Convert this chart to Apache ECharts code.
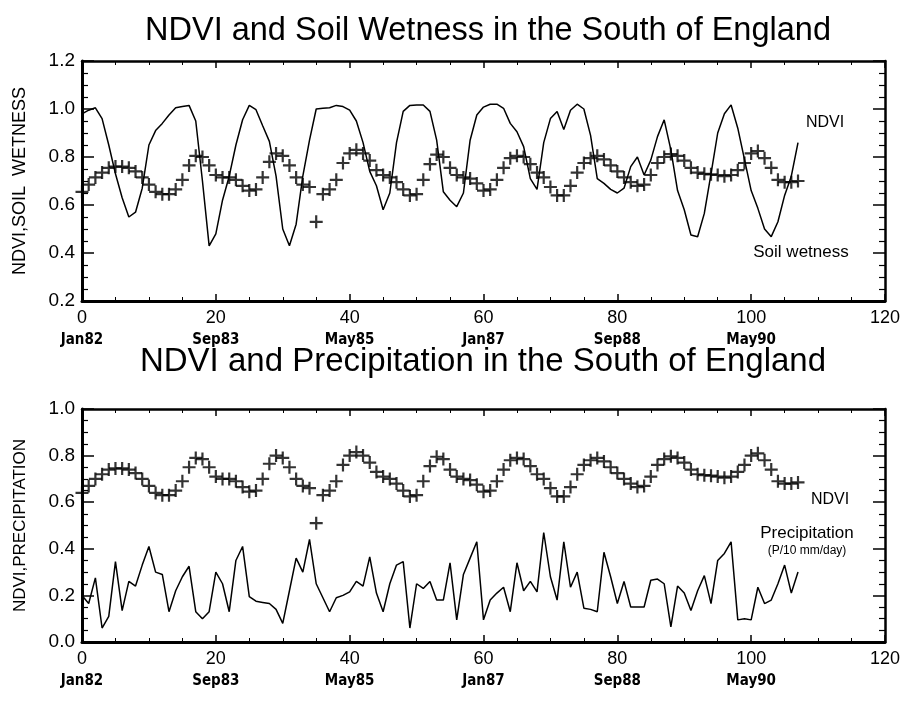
<!DOCTYPE html>
<html>
<head>
<meta charset="utf-8">
<script src="https://cdn.jsdelivr.net/npm/echarts@6/dist/echarts.min.js"></script>
<style>
  html, body { margin: 0; padding: 0; background: #fff; }
  #chart { width: 907px; height: 702px; }
</style>
</head>
<body>
<div id="chart"></div>
<script>
// Monthly series, Jan 1982 (month 0) to Dec 1990 (month 107)
const xTicks = [0, 20, 40, 60, 80, 100, 120];
const dateLabels = ['Jan82', 'Sep83', 'May85', 'Jan87', 'Sep88', 'May90', ''];

// NDVI (solid line, upper panel)
const ndvi = [
  0.98, 0.995, 1.005, 0.96, 0.85, 0.73, 0.63, 0.55, 0.57, 0.67,
  0.85, 0.91, 0.94, 0.975, 1.005, 1.01, 1.015, 0.95, 0.70, 0.43,
  0.48, 0.62, 0.72, 0.85, 0.955, 1.015, 0.997, 0.93, 0.865, 0.72,
  0.50, 0.43, 0.52, 0.72, 0.87, 1.0, 1.003, 1.005, 1.015, 1.01,
  0.995, 0.95, 0.86, 0.74, 0.68, 0.58, 0.65, 0.86, 0.99, 1.015,
  1.017, 1.017, 0.99, 0.87, 0.655, 0.62, 0.593, 0.65, 0.87, 0.975,
  1.008, 1.02, 1.02, 1.003, 0.94, 0.905, 0.843, 0.71, 0.665, 0.86,
  0.96, 0.99, 0.915, 0.995, 1.02, 1.0, 0.89, 0.71, 0.69, 0.665,
  0.65, 0.67, 0.76, 0.80, 0.725, 0.787, 0.885, 0.955, 0.83, 0.66,
  0.58, 0.475, 0.468, 0.565, 0.73, 0.90, 0.98, 1.017, 0.92, 0.79,
  0.66, 0.586, 0.50, 0.468, 0.53, 0.64, 0.72, 0.86
];

// Soil wetness (plus markers, upper panel)
const soilWetness = [
  0.655, 0.685, 0.715, 0.735, 0.755, 0.76, 0.76, 0.755, 0.74, 0.715,
  0.685, 0.655, 0.645, 0.645, 0.665, 0.705, 0.765, 0.805, 0.80, 0.765,
  0.725, 0.715, 0.715, 0.705, 0.68, 0.66, 0.665, 0.715, 0.78, 0.815,
  0.805, 0.765, 0.715, 0.685, 0.675, 0.53, 0.645, 0.665, 0.705, 0.775,
  0.815, 0.83, 0.815, 0.785, 0.745, 0.725, 0.715, 0.695, 0.665, 0.64,
  0.645, 0.705, 0.77, 0.81, 0.80, 0.755, 0.725, 0.715, 0.71, 0.69,
  0.66, 0.665, 0.705, 0.755, 0.795, 0.805, 0.80, 0.77, 0.735, 0.715,
  0.675, 0.64, 0.64, 0.68, 0.735, 0.775, 0.795, 0.805, 0.79, 0.765,
  0.74, 0.715, 0.695, 0.68, 0.685, 0.725, 0.775, 0.80, 0.812, 0.805,
  0.785, 0.755, 0.735, 0.73, 0.728, 0.725, 0.72, 0.725, 0.745, 0.775,
  0.815, 0.825, 0.795, 0.755, 0.705, 0.695, 0.695, 0.70
];

// NDVI (plus markers, lower panel)
const ndviLower = [
  0.64, 0.67, 0.70, 0.72, 0.74, 0.745, 0.745, 0.74, 0.725, 0.70,
  0.67, 0.64, 0.63, 0.63, 0.65, 0.69, 0.75, 0.79, 0.785, 0.75,
  0.71, 0.70, 0.70, 0.69, 0.665, 0.645, 0.65, 0.70, 0.765, 0.80,
  0.79, 0.75, 0.70, 0.67, 0.66, 0.51, 0.63, 0.65, 0.69, 0.76,
  0.80, 0.815, 0.80, 0.77, 0.73, 0.71, 0.70, 0.68, 0.65, 0.625,
  0.63, 0.69, 0.755, 0.795, 0.785, 0.74, 0.71, 0.70, 0.695, 0.675,
  0.645, 0.65, 0.69, 0.74, 0.78, 0.79, 0.785, 0.755, 0.72, 0.70,
  0.66, 0.625, 0.625, 0.665, 0.72, 0.76, 0.78, 0.79, 0.775, 0.75,
  0.725, 0.70, 0.68, 0.665, 0.67, 0.71, 0.76, 0.785, 0.797, 0.79,
  0.77, 0.74, 0.72, 0.716, 0.714, 0.71, 0.705, 0.71, 0.73, 0.76,
  0.80, 0.81, 0.78, 0.74, 0.69, 0.68, 0.68, 0.685
];

// Precipitation, P/10 mm/day (solid line, lower panel)
const precipitation = [
  0.20, 0.165, 0.275, 0.06, 0.11, 0.345, 0.135, 0.26, 0.24, 0.33,
  0.41, 0.30, 0.29, 0.13, 0.22, 0.28, 0.325, 0.13, 0.10, 0.13,
  0.30, 0.25, 0.13, 0.35, 0.41, 0.195, 0.175, 0.17, 0.165, 0.14,
  0.08, 0.22, 0.36, 0.30, 0.44, 0.25, 0.19, 0.13, 0.19, 0.20,
  0.215, 0.26, 0.24, 0.365, 0.21, 0.13, 0.25, 0.33, 0.345, 0.06,
  0.25, 0.23, 0.26, 0.18, 0.18, 0.34, 0.095, 0.29, 0.36, 0.43,
  0.095, 0.18, 0.21, 0.235, 0.13, 0.34, 0.22, 0.26, 0.215, 0.47,
  0.28, 0.18, 0.43, 0.235, 0.30, 0.145, 0.14, 0.13, 0.385, 0.28,
  0.165, 0.26, 0.15, 0.15, 0.15, 0.265, 0.27, 0.25, 0.065, 0.24,
  0.21, 0.135, 0.22, 0.285, 0.165, 0.35, 0.38, 0.43, 0.095, 0.10,
  0.095, 0.235, 0.165, 0.18, 0.25, 0.33, 0.21, 0.30
];

const pairs = vals => vals.map((v, i) => [i, v]);

const SANS = "'Liberation Sans', Arial, sans-serif";
const NARROW = "'Liberation Sans Narrow', 'DejaVu Sans Condensed', sans-serif";
const INK = '#000';

// A filled plus sign used as the marker
const plusSymbol = 'path://M-1,-0.17 H1 V0.17 H-1 Z M-0.17,-1 H0.17 V1 H-0.17 Z';

function bottomX(gridIndex) {
  return {
    type: 'value', gridIndex, position: 'bottom',
    min: 0, max: 120, interval: 20,
    axisLine: { show: true, onZero: false, lineStyle: { color: INK, width: 3 } },
    axisTick: { show: true, inside: true, length: 7, lineStyle: { color: INK, width: 1.5 } },
    minorTick: { show: true, splitNumber: 4, length: 4, lineStyle: { color: INK, width: 1 } },
    splitLine: { show: false },
    axisLabel: {
      show: true, margin: 6,
      formatter: v => '{n|' + v + '}\n{d|' + (dateLabels[xTicks.indexOf(v)] || ' ') + '}',
      rich: {
        n: { fontSize: 18, fontFamily: SANS, color: INK, lineHeight: 22 },
        d: { fontSize: 15, fontFamily: NARROW, fontWeight: 'bold', color: INK, lineHeight: 22 }
      }
    }
  };
}

function topX(gridIndex) {
  return {
    type: 'value', gridIndex, position: 'top',
    min: 0, max: 120, interval: 20,
    axisLine: { show: true, onZero: false, lineStyle: { color: INK, width: 2.5 } },
    axisTick: { show: true, inside: true, length: 7, lineStyle: { color: INK, width: 1.5 } },
    minorTick: { show: true, splitNumber: 4, length: 4, lineStyle: { color: INK, width: 1 } },
    splitLine: { show: false },
    axisLabel: { show: false }
  };
}

function leftY(gridIndex, min, max, name, nameSize) {
  return {
    type: 'value', gridIndex, position: 'left',
    min, max, interval: 0.2,
    name, nameLocation: 'middle', nameRotate: 90, nameGap: 53,
    nameTextStyle: { fontSize: nameSize, fontFamily: SANS, color: INK },
    axisLine: { show: true, onZero: false, lineStyle: { color: INK, width: 3 } },
    axisTick: { show: true, inside: true, length: 12, lineStyle: { color: INK, width: 1.5 } },
    minorTick: { show: true, splitNumber: 4, length: 6, lineStyle: { color: INK, width: 1.2 } },
    splitLine: { show: false },
    axisLabel: {
      show: true, margin: 7, fontSize: 19, fontFamily: SANS, color: INK,
      formatter: v => v.toFixed(1)
    }
  };
}

function rightY(gridIndex, min, max) {
  return {
    type: 'value', gridIndex, position: 'right',
    min, max, interval: 0.2,
    axisLine: { show: true, onZero: false, lineStyle: { color: INK, width: 2.5 } },
    axisTick: { show: true, inside: true, length: 12, lineStyle: { color: INK, width: 1.5 } },
    minorTick: { show: true, splitNumber: 4, length: 6, lineStyle: { color: INK, width: 1.2 } },
    splitLine: { show: false },
    axisLabel: { show: false }
  };
}

function textItem(text, x, y, size) {
  return {
    type: 'text', x, y,
    style: {
      text, fill: INK, font: 'normal ' + size + 'px ' + SANS,
      textAlign: 'center', textVerticalAlign: 'middle'
    }
  };
}

const option = {
  animation: false,
  backgroundColor: '#fff',
  grid: [
    { left: 82, top: 61, width: 803, height: 240 },
    { left: 82, top: 409, width: 803, height: 233 }
  ],
  xAxis: [bottomX(0), topX(0), bottomX(1), topX(1)],
  yAxis: [
    leftY(0, 0.2, 1.2, 'NDVI,SOIL  WETNESS', 18), rightY(0, 0.2, 1.2),
    leftY(1, 0.0, 1.0, 'NDVI,PRECIPITATION', 17), rightY(1, 0.0, 1.0)
  ],
  series: [
    {
      name: 'NDVI', type: 'line', xAxisIndex: 0, yAxisIndex: 0,
      data: pairs(ndvi), showSymbol: false, symbol: 'none',
      lineStyle: { color: INK, width: 1.5 }
    },
    {
      name: 'Soil wetness', type: 'scatter', xAxisIndex: 0, yAxisIndex: 0,
      data: pairs(soilWetness), symbol: plusSymbol, symbolSize: 13,
      itemStyle: { color: INK }
    },
    {
      name: 'NDVI (lower)', type: 'scatter', xAxisIndex: 2, yAxisIndex: 2,
      data: pairs(ndviLower), symbol: plusSymbol, symbolSize: 13,
      itemStyle: { color: INK }
    },
    {
      name: 'Precipitation', type: 'line', xAxisIndex: 2, yAxisIndex: 2,
      data: pairs(precipitation), showSymbol: false, symbol: 'none',
      lineStyle: { color: INK, width: 1.5 }
    }
  ],
  graphic: [
    textItem('NDVI and Soil Wetness in the South of England', 488, 31, 32.5),
    textItem('NDVI and Precipitation in the South of England', 483, 362, 33),
    textItem('NDVI', 825, 123, 16),
    textItem('Soil wetness', 801, 252, 17),
    textItem('NDVI', 830, 500, 16),
    textItem('Precipitation', 807, 533, 17),
    textItem('(P/10 mm/day)', 807, 551, 12)
  ]
};

const chart = echarts.init(document.getElementById('chart'), null, { renderer: 'canvas' });
chart.setOption(option);
</script>
</body>
</html>
